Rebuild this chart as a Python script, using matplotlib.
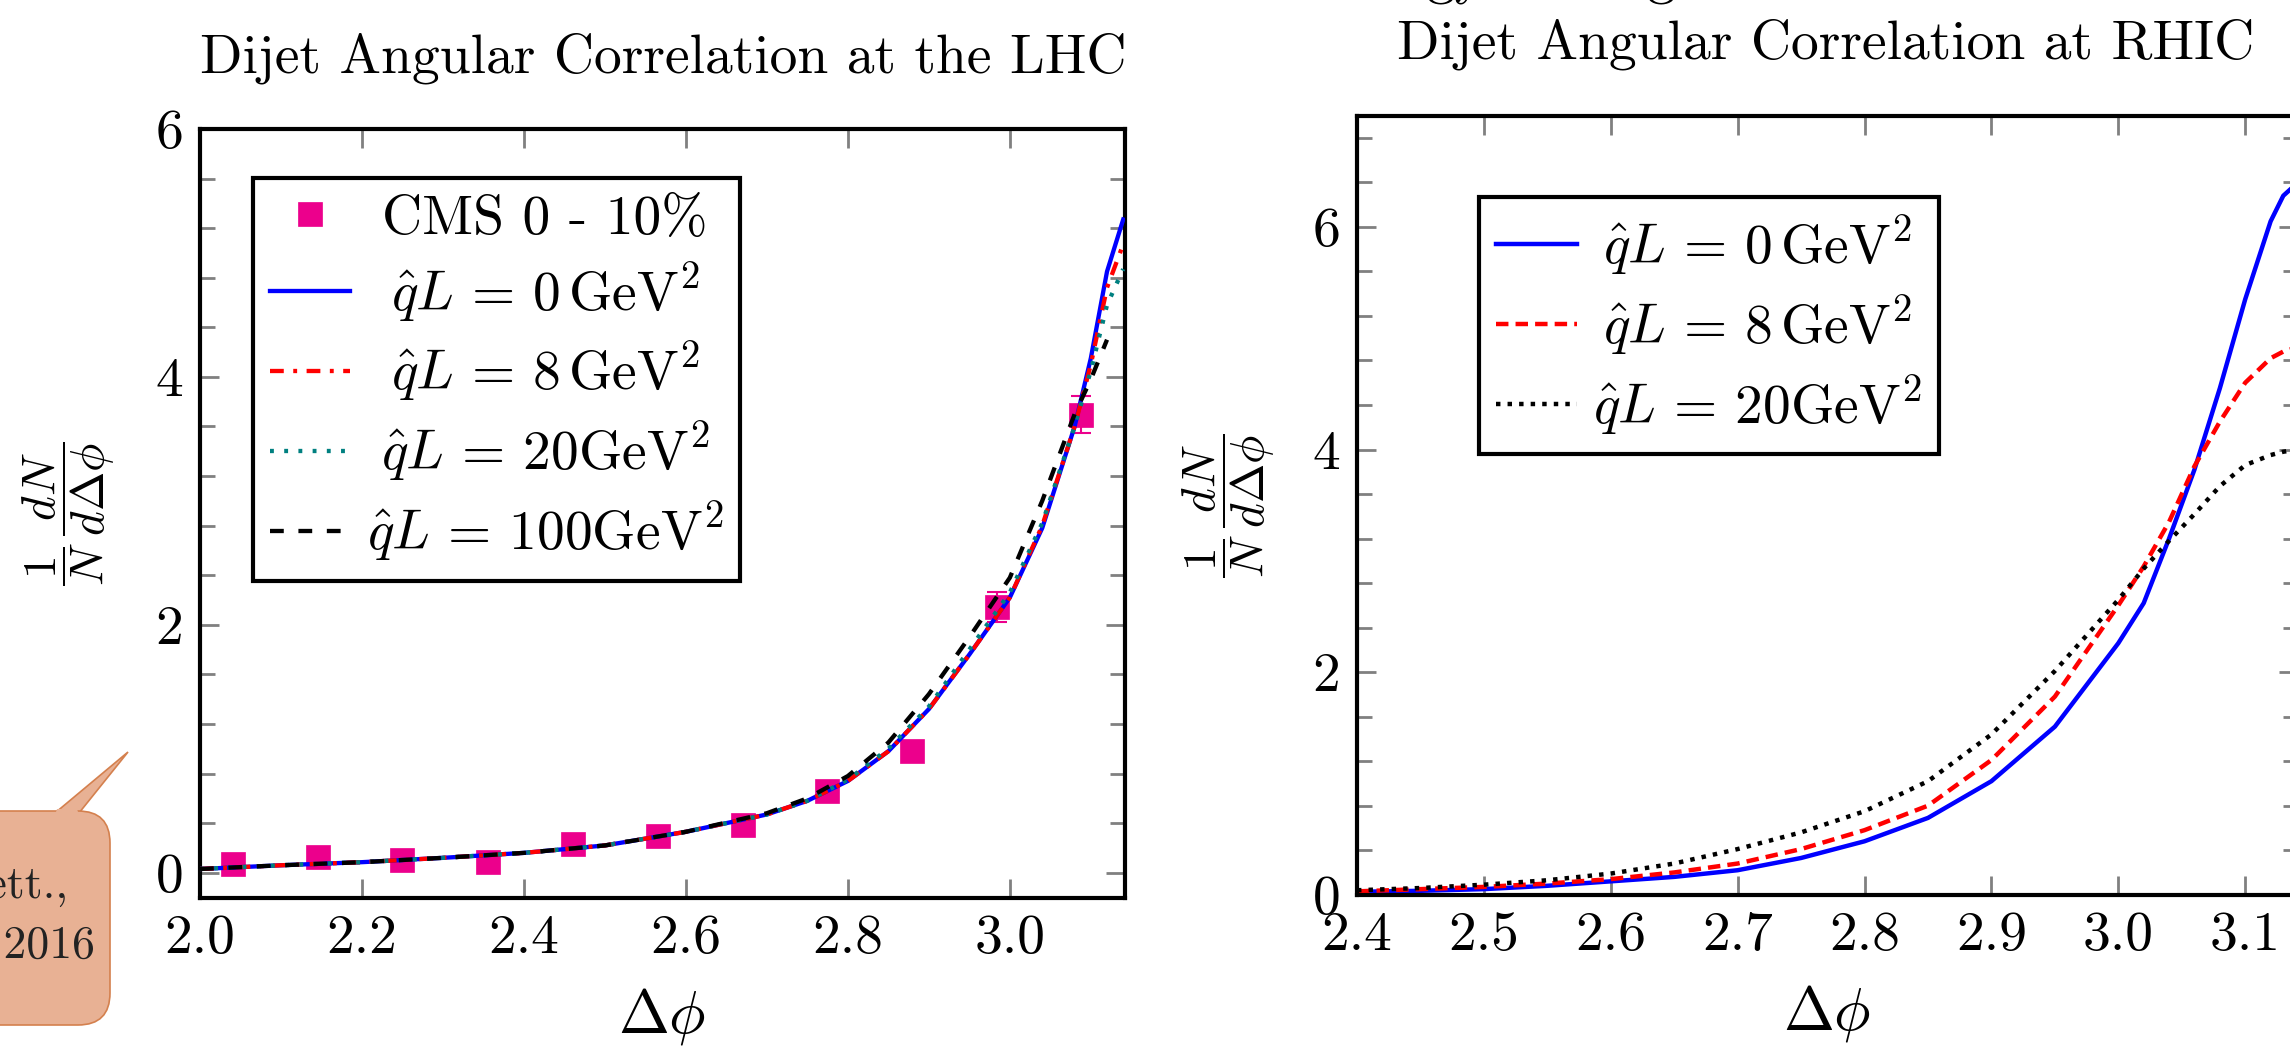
import numpy as np
import matplotlib
matplotlib.use('Agg')
import matplotlib.pyplot as plt
from matplotlib.ticker import MultipleLocator, FormatStrFormatter
from matplotlib.patches import FancyBboxPatch, Polygon
import matplotlib.transforms as mtransforms

plt.rcParams['font.family'] = 'serif'
plt.rcParams['font.serif'] = ['cmr10']
plt.rcParams['mathtext.fontset'] = 'cm'
plt.rcParams['axes.formatter.use_mathtext'] = True

# ---- LHC panel ----
cms_x = [2.041, 2.146, 2.250, 2.356, 2.460, 2.565, 2.670, 2.774, 2.879, 2.984, 3.088]
cms_y = [0.074, 0.128, 0.099, 0.086, 0.23, 0.296, 0.383, 0.658, 0.979, 2.144, 3.695]
cms_err = [0.02, 0.02, 0.02, 0.02, 0.03, 0.03, 0.04, 0.05, 0.06, 0.12, 0.15]

x_lhc = [2.0, 2.1, 2.2, 2.3, 2.4, 2.5, 2.6, 2.7, 2.75, 2.8, 2.85, 2.9, 2.95, 3.0, 3.04, 3.08, 3.1, 3.12, 3.14]
lhc_q0 = [0.03, 0.06, 0.085, 0.12, 0.16, 0.22, 0.33, 0.47, 0.58, 0.74, 0.98, 1.32, 1.76, 2.22, 2.78, 3.6, 4.15, 4.85, 5.27]
lhc_q8 = [0.03, 0.06, 0.085, 0.12, 0.16, 0.22, 0.33, 0.47, 0.58, 0.74, 0.98, 1.32, 1.76, 2.22, 2.8, 3.6, 4.1, 4.72, 5.07]
lhc_q20 = [0.03, 0.06, 0.085, 0.12, 0.16, 0.22, 0.33, 0.47, 0.58, 0.75, 1.0, 1.34, 1.8, 2.26, 2.82, 3.6, 4.05, 4.58, 4.87]
x_lhc100 = [2.0, 2.1, 2.2, 2.3, 2.4, 2.5, 2.6, 2.7, 2.75, 2.8, 2.85, 2.9, 2.95, 3.0, 3.04, 3.08, 3.1, 3.12]
lhc_q100 = [0.03, 0.06, 0.085, 0.12, 0.16, 0.22, 0.33, 0.48, 0.60, 0.78, 1.05, 1.44, 1.9, 2.38, 3.0, 3.7, 3.98, 4.3]

# ---- RHIC panel ----
x_rhic = [2.4, 2.45, 2.5, 2.55, 2.6, 2.65, 2.7, 2.75, 2.8, 2.85, 2.9, 2.95, 3.0,
          3.02, 3.04, 3.06, 3.08, 3.1, 3.12, 3.13, 3.1416]
rhic_q0 = [0.026, 0.035, 0.05, 0.08, 0.12, 0.16, 0.22, 0.33, 0.48, 0.69, 1.02, 1.51, 2.26,
           2.62, 3.2, 3.82, 4.55, 5.35, 6.05, 6.28, 6.4]
rhic_q8 = [0.03, 0.05, 0.07, 0.1, 0.14, 0.2, 0.28, 0.41, 0.58, 0.8, 1.21, 1.78, 2.6,
           2.95, 3.35, 3.85, 4.25, 4.6, 4.82, 4.88, 4.92]
rhic_q20 = [0.04, 0.06, 0.09, 0.13, 0.19, 0.28, 0.41, 0.56, 0.75, 1.02, 1.44, 2.01, 2.65,
            2.93, 3.18, 3.42, 3.67, 3.86, 3.95, 3.98, 4.0]

lab_cms = 'CMS 0 - 10%'
lab0 = r'$\hat{q}L\,=\,0\,\mathrm{GeV}^2$'
lab8 = r'$\hat{q}L\,=\,8\,\mathrm{GeV}^2$'
lab20 = r'$\hat{q}L\,=\,20\mathrm{GeV}^2$'
lab100 = r'$\hat{q}L\,=\,100\mathrm{GeV}^2$'
ylab = r'$\dfrac{1}{N}\,\dfrac{dN}{d\Delta\phi}$'

pink = '#EC008C'
W, H = 2290, 1046
fig = plt.figure(figsize=(W / 100, H / 100), dpi=100)
px = mtransforms.Affine2D().scale(1 / 100.) + fig.dpi_scale_trans


def axbox(l, t, r, b):
    return [l / W, 1 - b / H, (r - l) / W, (b - t) / H]


def style(ax, xmaj):
    for s in ax.spines.values():
        s.set_linewidth(3)
    ax.xaxis.set_major_locator(MultipleLocator(xmaj))
    ax.yaxis.set_major_locator(MultipleLocator(2))
    ax.yaxis.set_minor_locator(MultipleLocator(0.4))
    ax.xaxis.set_major_formatter(FormatStrFormatter('%.1f'))
    ax.yaxis.set_major_formatter(FormatStrFormatter('%d'))
    ax.tick_params(which='both', direction='in', top=True, right=True,
                   color='#808080', width=2, labelsize=40, pad=12)
    ax.tick_params(which='major', length=14)
    ax.tick_params(which='minor', length=11)


def center_legend(leg):
    fig.canvas.draw()
    texts = leg.get_texts()
    ws = [t.get_window_extent().width for t in texts]
    m = max(ws)
    for t, w in zip(texts, ws):
        t.set_position(((m - w) / 2, 0))


# left panel
ax1 = fig.add_axes(axbox(200, 129, 1124.5, 897.5))
ax1.errorbar(cms_x, cms_y, yerr=cms_err, fmt='none', ecolor=pink, elinewidth=1.5,
             capsize=7, capthick=1.5, zorder=2)
h_cms, = ax1.plot(cms_x, cms_y, ls='none', marker='s', ms=17.5, color=pink,
                  mec=pink, mew=0.5, zorder=2)
h0, = ax1.plot(x_lhc, lhc_q0, color='#0000FF', lw=3.1, zorder=3)
h8, = ax1.plot(x_lhc, lhc_q8, color='#FF0000', lw=3.1, ls=(0, (3.2, 2.2, 0.9, 2.2)), zorder=3)
h20, = ax1.plot(x_lhc, lhc_q20, color='#008080', lw=3.1, ls=(0, (0.9, 2.4)), zorder=3)
h100, = ax1.plot(x_lhc100, lhc_q100, color='k', lw=3.1, ls=(0, (3.2, 3.4)), zorder=3)
ax1.set_xlim(2.0, np.pi)
ax1.set_ylim(-0.2, 6)
style(ax1, 0.2)
ax1.set_xlabel(r'$\Delta\phi$', fontsize=44, va='top')
ax1.xaxis.set_label_coords(0.5, -0.115)
ax1.set_ylabel(ylab, fontsize=34)
ax1.yaxis.set_label_coords(-0.09, 0.5)
leg1 = ax1.legend([h_cms, h0, h8, h20, h100], [lab_cms, lab0, lab8, lab20, lab100],
                  loc='upper left', bbox_to_anchor=(0.0573, 0.936), fontsize=40,
                  fancybox=False, edgecolor='k', framealpha=1, borderpad=0.3,
                  labelspacing=0.28, handlelength=1.45, handletextpad=0.3,
                  borderaxespad=0, numpoints=1)
leg1.get_frame().set_linewidth(3)

# right panel
ax2 = fig.add_axes(axbox(1357, 115.6, 2298, 894.7))
r0, = ax2.plot(x_rhic, rhic_q0, color='#0000FF', lw=3.2)
r8, = ax2.plot(x_rhic, rhic_q8, color='#FF0000', lw=3.2, ls=(0, (2.8, 1.6)))
r20, = ax2.plot(x_rhic, rhic_q20, color='k', lw=3.2, ls=(0, (1, 1.6)))
ax2.set_xlim(2.4, np.pi)
ax2.set_ylim(0, 7)
style(ax2, 0.1)
ax2.set_xlabel(r'$\Delta\phi$', fontsize=44, va='top')
ax2.xaxis.set_label_coords(0.5, -0.113)
ax2.set_ylabel(ylab, fontsize=34)
ax2.yaxis.set_label_coords(-0.085, 0.5)
leg2 = ax2.legend([r0, r8, r20], [lab0, lab8, lab20],
                  loc='upper left', bbox_to_anchor=(0.130, 0.8956), fontsize=40,
                  fancybox=False, edgecolor='k', framealpha=1, borderpad=0.3,
                  labelspacing=0.28, handlelength=1.45, handletextpad=0.3,
                  borderaxespad=0)
leg2.get_frame().set_linewidth(3)

# titles
fig.text(663 / W, 1 - 72 / H, 'Dijet Angular Correlation at the LHC',
         ha='center', va='baseline', fontsize=40)
fig.text(1826 / W, 1 - 58 / H, 'Dijet Angular Correlation at RHIC',
         ha='center', va='baseline', fontsize=40)
# line above, cut by the top edge
fig.text(1312, H + 8, 'Energy Scaling at', transform=px,
         ha='left', va='baseline', fontsize=40)

# callout bubble on the left edge
tri = Polygon([(55, H - 813), (79, H - 813), (128, H - 752)], closed=True,
              transform=px, facecolor='#E8B194', edgecolor='#D4804E', lw=1.2)
fig.add_artist(tri)
box = FancyBboxPatch((-80, H - 1025), 190, 214,
                     boxstyle='round,pad=0,rounding_size=32', transform=px,
                     facecolor='#E8B194', edgecolor='#D4804E', lw=1.2)
fig.add_artist(box)
cover = Polygon([(57, H - 809), (77, H - 809), (79, H - 815), (55, H - 815)], closed=True,
                transform=px, facecolor='#E8B194', edgecolor='none')
fig.add_artist(cover)
fig.text(68, H - 899, 'Phys. Lett.,', transform=px, ha='right', va='baseline',
         fontsize=33, color='#222222')
fig.text(95, H - 958, 'B 763, 2016', transform=px, ha='right', va='baseline',
         fontsize=33, color='#222222')

center_legend(leg1)
center_legend(leg2)

fig.savefig('out.png', dpi=100)
